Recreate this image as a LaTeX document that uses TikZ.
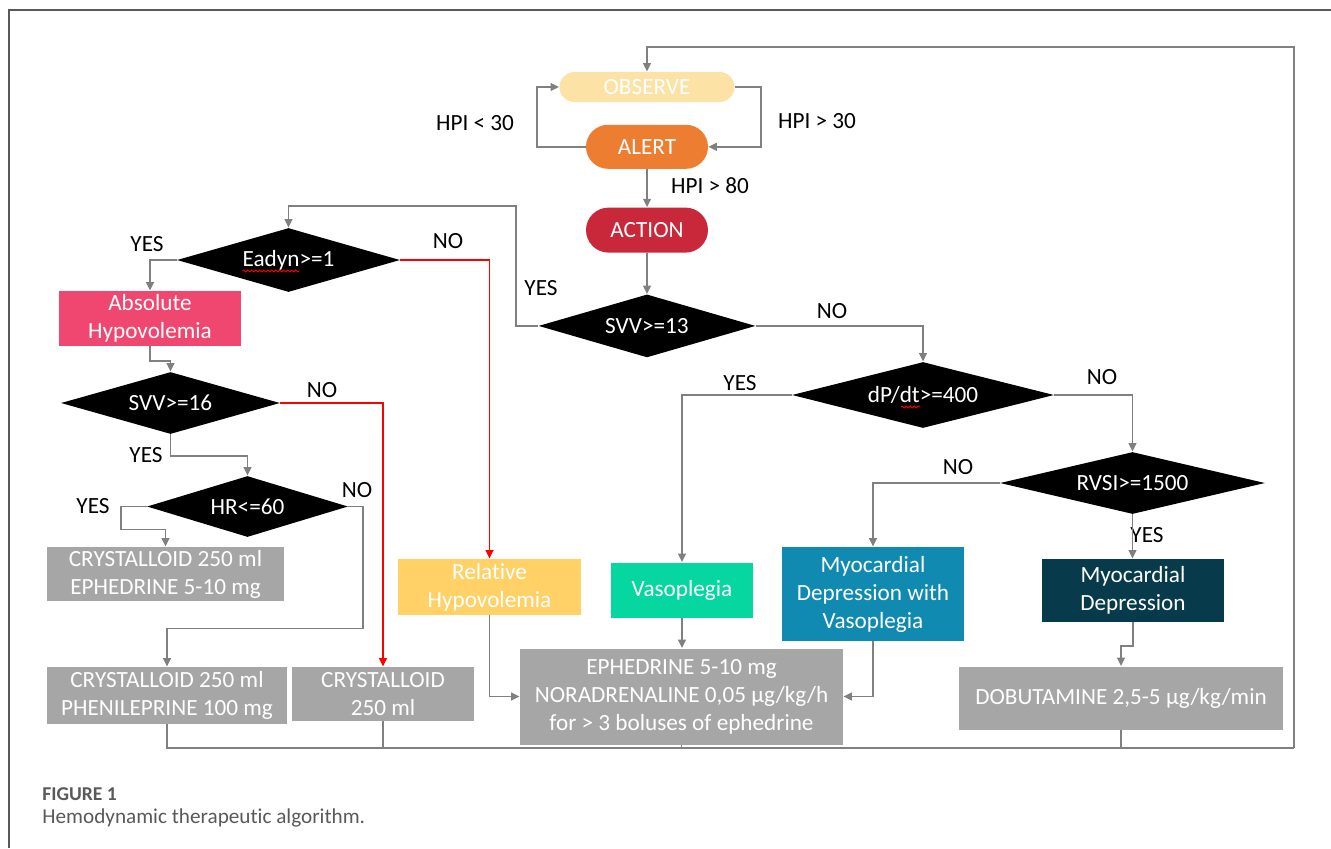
\documentclass[tikz,border=0pt]{standalone}
\usepackage{fontspec}
\setmainfont{Carlito}[Ligatures=NoCommon]
\usepackage{xcolor}
\usetikzlibrary{shapes.geometric, shapes.misc, arrows.meta, positioning, decorations.pathmorphing}

\definecolor{obscol}{HTML}{FDE2A6}
\definecolor{alertcol}{HTML}{ED7D31}
\definecolor{actioncol}{HTML}{C9283A}
\definecolor{abscol}{HTML}{EF476F}
\definecolor{relcol}{HTML}{FFD166}
\definecolor{vasocol}{HTML}{06D6A0}
\definecolor{mdvcol}{HTML}{118AB2}
\definecolor{mdcol}{HTML}{073B4C}
\definecolor{boxgray}{HTML}{A6A6A6}
\definecolor{linegray}{HTML}{808080}
\definecolor{capgray}{HTML}{595959}

\begin{document}
\begin{tikzpicture}[x=0.5pt, y=-0.5pt,
    font=\fontsize{11.6}{14}\selectfont,
    pill/.style={rounded rectangle, fill=#1, text=white, inner sep=0pt},
    cond/.style={diamond, aspect=3.5, fill=black, text=white, inner sep=0pt},
    state/.style={rectangle, fill=#1, text=white, align=center, inner sep=0pt},
    drug/.style={state=boxgray},
    arr/.style={draw=linegray, line width=0.95pt, -{Triangle[length=4.2pt,width=3.8pt]}},
    redarr/.style={arr, draw=red},
    bus/.style={draw=linegray, line width=0.95pt},
    spell/.style={draw=red, line width=0.4pt, decorate, decoration={snake, amplitude=0.5pt, segment length=2pt}}]
    \useasboundingbox (0,0) rectangle (1331,848);
    \draw[capgray, line width=0.8pt] (1331,10) -- (9,10) -- (9,848);

    \node[pill=obscol, minimum width=87.5pt, minimum height=15pt] (observe) at (647,87) {OBSERVE};
    \node[pill=alertcol, minimum width=61pt, minimum height=22pt, below=11pt of observe] (alert) {ALERT};
    \node[pill=actioncol, minimum width=61pt, minimum height=22.5pt, below=19pt of alert] (action) {ACTION};
    \node[cond, minimum width=108.5pt, minimum height=31.5pt, below=20.5pt of action] (svv13) {SVV>=13};

    \node[cond, minimum width=111.5pt, minimum height=32pt] (eadyn) at (288.5,260) {Eadyn>=1};
    \node[state=abscol, minimum width=91pt, minimum height=27.5pt] (absh) at (150,318.5) {Absolute\\Hypovolemia};
    \node[cond, minimum width=109.5pt, minimum height=31pt] (svv16) at (170.5,403) {SVV>=16};
    \node[cond, minimum width=100.5pt, minimum height=30.5pt] (hr) at (247.5,506.5) {HR<=60};
    \node[drug, minimum width=118.5pt, minimum height=27pt] (cryeph) at (165.5,574) {CRYSTALLOID 250 ml\\EPHEDRINE 5-10 mg};
    \node[drug, minimum width=120pt, minimum height=28.5pt] (cryphe) at (167,695.5) {CRYSTALLOID 250 ml\\PHENILEPRINE 100 mg};
    \node[drug, minimum width=91pt, minimum height=27pt] (cry) at (383,694) {CRYSTALLOID\\250 ml};
    \node[state=relcol, minimum width=91.5pt, minimum height=28pt] (relh) at (489.5,587) {Relative\\Hypovolemia};

    \node[cond, minimum width=131pt, minimum height=33pt] (dpdt) at (923,395) {dP/dt>=400};
    \node[cond, minimum width=132.5pt, minimum height=31pt] (rvsi) at (1132.5,483) {RVSI>=1500};
    \node[state=vasocol, minimum width=71pt, minimum height=27.5pt] (vaso) at (682,590) {Vasoplegia};
    \node[state=mdvcol, minimum width=91pt, minimum height=47pt] (mdvaso) at (873,594) {Myocardial\\Depression with\\Vasoplegia};
    \node[state=mdcol, minimum width=91pt, minimum height=31.5pt] (mydep) at (1133,590.5) {Myocardial\\Depression};
    \node[drug, minimum width=161.5pt, minimum height=48pt] (ephnor) at (681.5,696.5) {EPHEDRINE 5-10 mg\\NORADRENALINE 0,05 µg/kg/h\\for > 3 boluses of ephedrine};
    \node[drug, minimum width=162pt, minimum height=31.5pt] (dobu) at (1121,698) {DOBUTAMINE 2,5-5 µg/kg/min};

    \draw[spell] ([shift={(-46,11)}]eadyn.center) -- ([shift={(11,11)}]eadyn.center);
    \draw[spell] ([shift={(-22,12)}]dpdt.center) -- ([shift={(-3,12)}]dpdt.center);

    \node (hpilow) at (475,123) {HPI < 30};
    \node (hpihigh) at (817,121) {HPI > 30};
    \node (hpiact) at (710,186) {HPI > 80};
    \node (yeseadyn) at (147,244) {YES};
    \node (noeadyn) at (448,241) {NO};
    \node (yessvv13) at (541,288) {YES};
    \node (nosvv13) at (832,311) {NO};
    \node (nosvv16) at (322,390) {NO};
    \node (yessvv16) at (146,455) {YES};
    \node (yeshr) at (93,506) {YES};
    \node (nohr) at (357,490) {NO};
    \node (yesdpdt) at (740,383) {YES};
    \node (nodpdt) at (1102,377) {NO};
    \node (norvsi) at (958,467) {NO};
    \node (yesrvsi) at (1147,535) {YES};

    \draw[arr] (alert.west) -- ++(-49,0) |- (observe.west);
    \draw[arr] (observe.east) -- ++(26,0) |- (alert.east);
    \draw[arr] (alert) -- (action);
    \draw[arr] (action) -- (svv13);
    \draw[arr] (svv13.west) -- ++(-22,0) -- ++(0,-120) -| (eadyn.north);
    \draw[arr] (svv13.east) -| (dpdt.north);
    \draw[arr] (eadyn.west) -| (absh.north);
    \draw[redarr] (eadyn.east) -| (relh.north);
    \draw[arr] (absh.south) -- ++(0,15) -| (svv16.north);
    \draw[redarr] (svv16.east) -| (cry.north);
    \draw[arr] (svv16.south) -- ++(0,22) -| (hr.north);
    \draw[arr] (hr.west) -- ++(-26,0) -- ++(0,23) -| (cryeph.north);
    \draw[arr] (hr.east) -- ++(15,0) -- ++(0,122) -| (cryphe.north);
    \draw[arr] (relh.south) |- (ephnor.west);
    \draw[arr] (dpdt.west) -| (vaso.north);
    \draw[arr] (vaso.south) -- (vaso.south |- ephnor.north);
    \draw[arr] (dpdt.east) -| (rvsi.north);
    \draw[arr] (rvsi.west) -| (mdvaso.north);
    \draw[arr] (rvsi.south) -- (rvsi.south |- mydep.north);
    \draw[arr] (mdvaso.south) |- (ephnor.east);
    \draw[arr] (mydep.south) -- ++(0,24) -| (dobu.north);

    \coordinate (busend) at (1294,748);
    \draw[bus] (cryphe.south) |- (busend);
    \draw[bus] (cry.south) -- (cry.south |- busend);
    \draw[bus] (ephnor.south) -- (ephnor.south |- busend);
    \draw[bus] (dobu.south) -- (dobu.south |- busend);
    \draw[arr] (busend) -- ++(0,-701) -| (observe.north);

    \node[anchor=west, inner sep=0pt, text=capgray, font=\fontsize{9.8}{11}\selectfont\bfseries] (figno) at (42,794) {FIGURE 1};
    \node[anchor=west, inner sep=0pt, text=capgray, font=\fontsize{10.6}{12}\selectfont] (figcap) at (42,818) {Hemodynamic therapeutic algorithm.};
\end{tikzpicture}
\end{document}
